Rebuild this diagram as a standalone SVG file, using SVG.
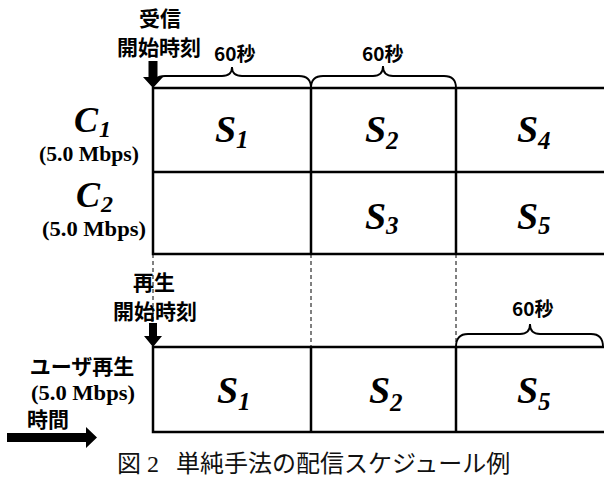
<svg xmlns="http://www.w3.org/2000/svg" width="604" height="481" viewBox="0 0 604 481">
<style>
.grid{stroke:#000;stroke-width:2.5;fill:none;stroke-linecap:square}
.dash{stroke:#000;stroke-width:1;stroke-dasharray:4 3;fill:none}
.brace{stroke:#000;stroke-width:1.8;fill:none}
.jp{font-family:"Noto Sans CJK JP","Noto Sans",sans-serif;font-weight:bold;font-size:21px;fill:#000}
.sec{font-family:"Noto Sans CJK JP","Noto Sans",sans-serif;font-weight:bold;font-size:19px;fill:#000}
.rate{font-family:"Liberation Serif",serif;font-weight:bold;font-size:20px;fill:#000}
.big{font-family:"Liberation Serif",serif;font-weight:bold;font-style:italic;font-size:38px;fill:#000}
.cbig{font-family:"Liberation Serif",serif;font-weight:bold;font-style:italic;font-size:36px;fill:#000}
.sub{font-family:"Liberation Serif",serif;font-weight:bold;font-style:italic;font-size:25px;fill:#000}
.csub{font-family:"Liberation Serif",serif;font-weight:bold;font-style:italic;font-size:24px;fill:#000}
.cap{font-family:"Liberation Serif","Noto Sans CJK JP",serif;font-size:24px;fill:#111}
.arrow{fill:#000}
</style>
<g id="connectors">
<path class="dash" d="M153,254 V347 M311,254 V347 M456,254 V347"/>
<path class="brace" d="M153,88 Q153,76 165,76 L222,76 Q232,76 232,67 Q232,76 242,76 L299,76 Q311,76 311,88"/>
<path class="brace" d="M311,88 Q311,76 323,76 L373,76 Q383,76 383,66 Q383,76 393,76 L444,76 Q456,76 456,88"/>
<path class="brace" d="M456,347 Q456,334 468,334 L520,334 Q530,334 530,324 Q530,334 540,334 L591,334 Q603,334 603,347"/>
<polygon class="arrow" points="148.5,61 157.5,61 157.5,77 163,77 153,88 143,77 148.5,77"/>
<polygon class="arrow" points="149,323 157,323 157,336 162,336 153,347 144,336 149,336"/>
<polygon class="arrow" points="7,433 86,433 86,427 97,437.5 86,448 86,442 7,442"/>
</g>
<g id="grid-top">
<path class="grid" d="M153,88 H604 M153,172 H604 M153,254 H604 M153,88 V254 M311,88 V254 M456,88 V254"/>
</g>
<g id="grid-bottom">
<path class="grid" d="M153,347 H604 M153,432 H604 M153,347 V432 M311,347 V432 M456,347 V432"/>
</g>
<g id="label-recv">
<text class="jp" x="160" y="26" text-anchor="middle">受信</text>
<text class="jp" x="159" y="55" text-anchor="middle">開始時刻</text>
</g>
<g id="label-play">
<text class="jp" x="154" y="290" text-anchor="middle">再生</text>
<text class="jp" x="155" y="319" text-anchor="middle">開始時刻</text>
</g>
<g id="label-60s">
<text class="sec" x="214" y="61">60秒</text>
<text class="sec" x="362" y="61">60秒</text>
<text class="sec" x="512" y="316">60秒</text>
</g>
<g id="row-c1">
<text class="cbig" x="74" y="132">C</text><text class="csub" x="99" y="137">1</text>
<text class="rate" x="39" y="161" textLength="100" lengthAdjust="spacingAndGlyphs">(5.0 Mbps)</text>
</g>
<g id="row-c2">
<text class="cbig" x="76" y="207">C</text><text class="csub" x="101" y="212">2</text>
<text class="rate" x="42" y="236" textLength="104" lengthAdjust="spacingAndGlyphs">(5.0 Mbps)</text>
</g>
<g id="row-user">
<text class="jp" x="82" y="374" text-anchor="middle">ユーザ再生</text>
<text class="rate" x="31" y="400" textLength="104" lengthAdjust="spacingAndGlyphs">(5.0 Mbps)</text>
<text class="jp" x="27" y="427">時間</text>
</g>
<g id="cell-c1-s1"><text class="big" x="215" y="142">S</text><text class="sub" x="236" y="148">1</text></g>
<g id="cell-c1-s2"><text class="big" x="365" y="142">S</text><text class="sub" x="386" y="149">2</text></g>
<g id="cell-c1-s4"><text class="big" x="517" y="142">S</text><text class="sub" x="538" y="149">4</text></g>
<g id="cell-c2-s3"><text class="big" x="365" y="229">S</text><text class="sub" x="386" y="234">3</text></g>
<g id="cell-c2-s5"><text class="big" x="517" y="229">S</text><text class="sub" x="538" y="234">5</text></g>
<g id="cell-u-s1"><text class="big" x="217" y="403">S</text><text class="sub" x="238" y="410">1</text></g>
<g id="cell-u-s2"><text class="big" x="369" y="403">S</text><text class="sub" x="390" y="411">2</text></g>
<g id="cell-u-s5"><text class="big" x="517" y="403">S</text><text class="sub" x="538" y="410">5</text></g>
<g id="caption">
<text class="cap" x="117" y="472">図 2</text>
<text class="cap" x="176" y="472">単純手法の配信スケジュール例</text>
</g>
</svg>
